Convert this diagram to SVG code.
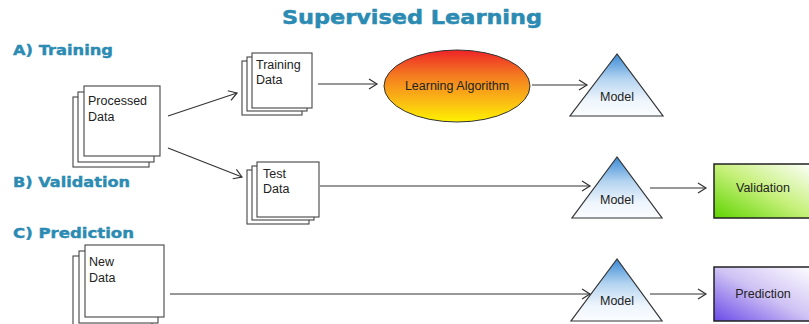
<svg xmlns="http://www.w3.org/2000/svg" width="809" height="324" viewBox="0 0 809 324">
<style>
.hdr{font-family:"DejaVu Sans",Verdana,sans-serif;font-weight:bold;fill:#2b8bb2}
.lbl{font-family:"Liberation Sans",Arial,sans-serif;font-size:12.5px;fill:#222}
.sheet{fill:#fff;stroke:#444;stroke-width:1.1}
.conn{stroke:#333;stroke-width:1.2;fill:none;marker-end:url(#arr)}
.tri{fill:url(#gTri);stroke:#333;stroke-width:1.2}
</style>
<defs>
<marker id="arr" markerUnits="userSpaceOnUse" markerWidth="12" markerHeight="12" refX="10" refY="6" orient="auto">
<path d="M2,1 L10,6 L2,11" fill="none" stroke="#333" stroke-width="1.2"/>
</marker>
<linearGradient id="gEll" x1="0" y1="0" x2="0" y2="1">
<stop offset="0" stop-color="#ee2328"/>
<stop offset="0.35" stop-color="#f47a20"/>
<stop offset="0.75" stop-color="#fbc212"/>
<stop offset="1" stop-color="#fff200"/>
</linearGradient>
<linearGradient id="gTri" x1="0" y1="0" x2="0" y2="1">
<stop offset="0" stop-color="#3a8ad6"/>
<stop offset="0.4" stop-color="#b4d4f0"/>
<stop offset="0.75" stop-color="#eef5fc"/>
<stop offset="1" stop-color="#fbfdff"/>
</linearGradient>
<linearGradient id="gVal" x1="0" y1="1" x2="1" y2="0">
<stop offset="0" stop-color="#5fd400"/>
<stop offset="0.5" stop-color="#c6f07a"/>
<stop offset="1" stop-color="#ffffff"/>
</linearGradient>
<linearGradient id="gPred" x1="0" y1="1" x2="1" y2="0">
<stop offset="0" stop-color="#6a4ae8"/>
<stop offset="0.5" stop-color="#cfc2f4"/>
<stop offset="1" stop-color="#ffffff"/>
</linearGradient>
</defs>
<rect width="809" height="324" fill="#fff"/>
<text class="hdr" x="412" y="24" font-size="19.5" text-anchor="middle" textLength="260" lengthAdjust="spacingAndGlyphs" stroke="#2b8bb2" stroke-width="0.5">Supervised Learning</text>
<text class="hdr" x="13" y="55" font-size="14" textLength="100" lengthAdjust="spacingAndGlyphs" stroke="#2b8bb2" stroke-width="0.4">A) Training</text>
<text class="hdr" x="13" y="187" font-size="14" textLength="117" lengthAdjust="spacingAndGlyphs" stroke="#2b8bb2" stroke-width="0.4">B) Validation</text>
<text class="hdr" x="13" y="238" font-size="14" textLength="121" lengthAdjust="spacingAndGlyphs" stroke="#2b8bb2" stroke-width="0.4">C) Prediction</text>

<g id="processed-data">
<rect class="sheet" x="73" y="97" width="76" height="70"/>
<rect class="sheet" x="78" y="92" width="76" height="70"/>
<rect class="sheet" x="84" y="86" width="76" height="70"/>
<text class="lbl" x="88" y="105">Processed</text>
<text class="lbl" x="88" y="121">Data</text>
</g>
<g id="training-data">
<rect class="sheet" x="242" y="61" width="60" height="54"/>
<rect class="sheet" x="247" y="57" width="60" height="54"/>
<rect class="sheet" x="252" y="53" width="60" height="55"/>
<text class="lbl" x="256" y="69">Training</text>
<text class="lbl" x="256" y="84">Data</text>
</g>
<g id="learning-algorithm">
<ellipse cx="457" cy="86" rx="73" ry="36" fill="url(#gEll)" stroke="#333" stroke-width="1"/>
<text class="lbl" x="457" y="90" text-anchor="middle">Learning Algorithm</text>
</g>
<g id="model-1">
<polygon class="tri" points="617,54 570,116 663,116"/>
<text class="lbl" x="617" y="101" text-anchor="middle">Model</text>
</g>
<g id="test-data">
<rect class="sheet" x="247" y="170" width="62" height="54"/>
<rect class="sheet" x="252" y="166" width="62" height="54"/>
<rect class="sheet" x="257" y="162" width="62" height="55"/>
<text class="lbl" x="263" y="178">Test</text>
<text class="lbl" x="263" y="193">Data</text>
</g>
<g id="model-2">
<polygon class="tri" points="617,157 572,218 662,218"/>
<text class="lbl" x="617" y="204" text-anchor="middle">Model</text>
</g>
<g id="validation">
<rect x="714" y="164" width="100" height="54" fill="url(#gVal)" stroke="#222" stroke-width="1.5"/>
<text class="lbl" x="763" y="192" text-anchor="middle">Validation</text>
</g>
<g id="new-data">
<rect class="sheet" x="73" y="256" width="79" height="72"/>
<rect class="sheet" x="79" y="251" width="79" height="72"/>
<rect class="sheet" x="85" y="245" width="79" height="72"/>
<text class="lbl" x="89" y="266">New</text>
<text class="lbl" x="89" y="282">Data</text>
</g>
<g id="model-3">
<polygon class="tri" points="617,259 571,321 662,321"/>
<text class="lbl" x="617" y="305" text-anchor="middle">Model</text>
</g>
<g id="prediction">
<rect x="714" y="267" width="100" height="54" fill="url(#gPred)" stroke="#222" stroke-width="1.5"/>
<text class="lbl" x="763" y="298" text-anchor="middle">Prediction</text>
</g>

<g id="connectors">
<line class="conn" x1="168" y1="116" x2="237" y2="93"/>
<line class="conn" x1="168" y1="148" x2="242" y2="177"/>
<line class="conn" x1="318" y1="84" x2="377" y2="84"/>
<line class="conn" x1="532" y1="85" x2="587" y2="85"/>
<line class="conn" x1="320" y1="186" x2="590" y2="186"/>
<line class="conn" x1="650" y1="188" x2="706" y2="188"/>
<line class="conn" x1="170" y1="294" x2="590" y2="294"/>
<line class="conn" x1="650" y1="294" x2="706" y2="294"/>
</g>
</svg>
